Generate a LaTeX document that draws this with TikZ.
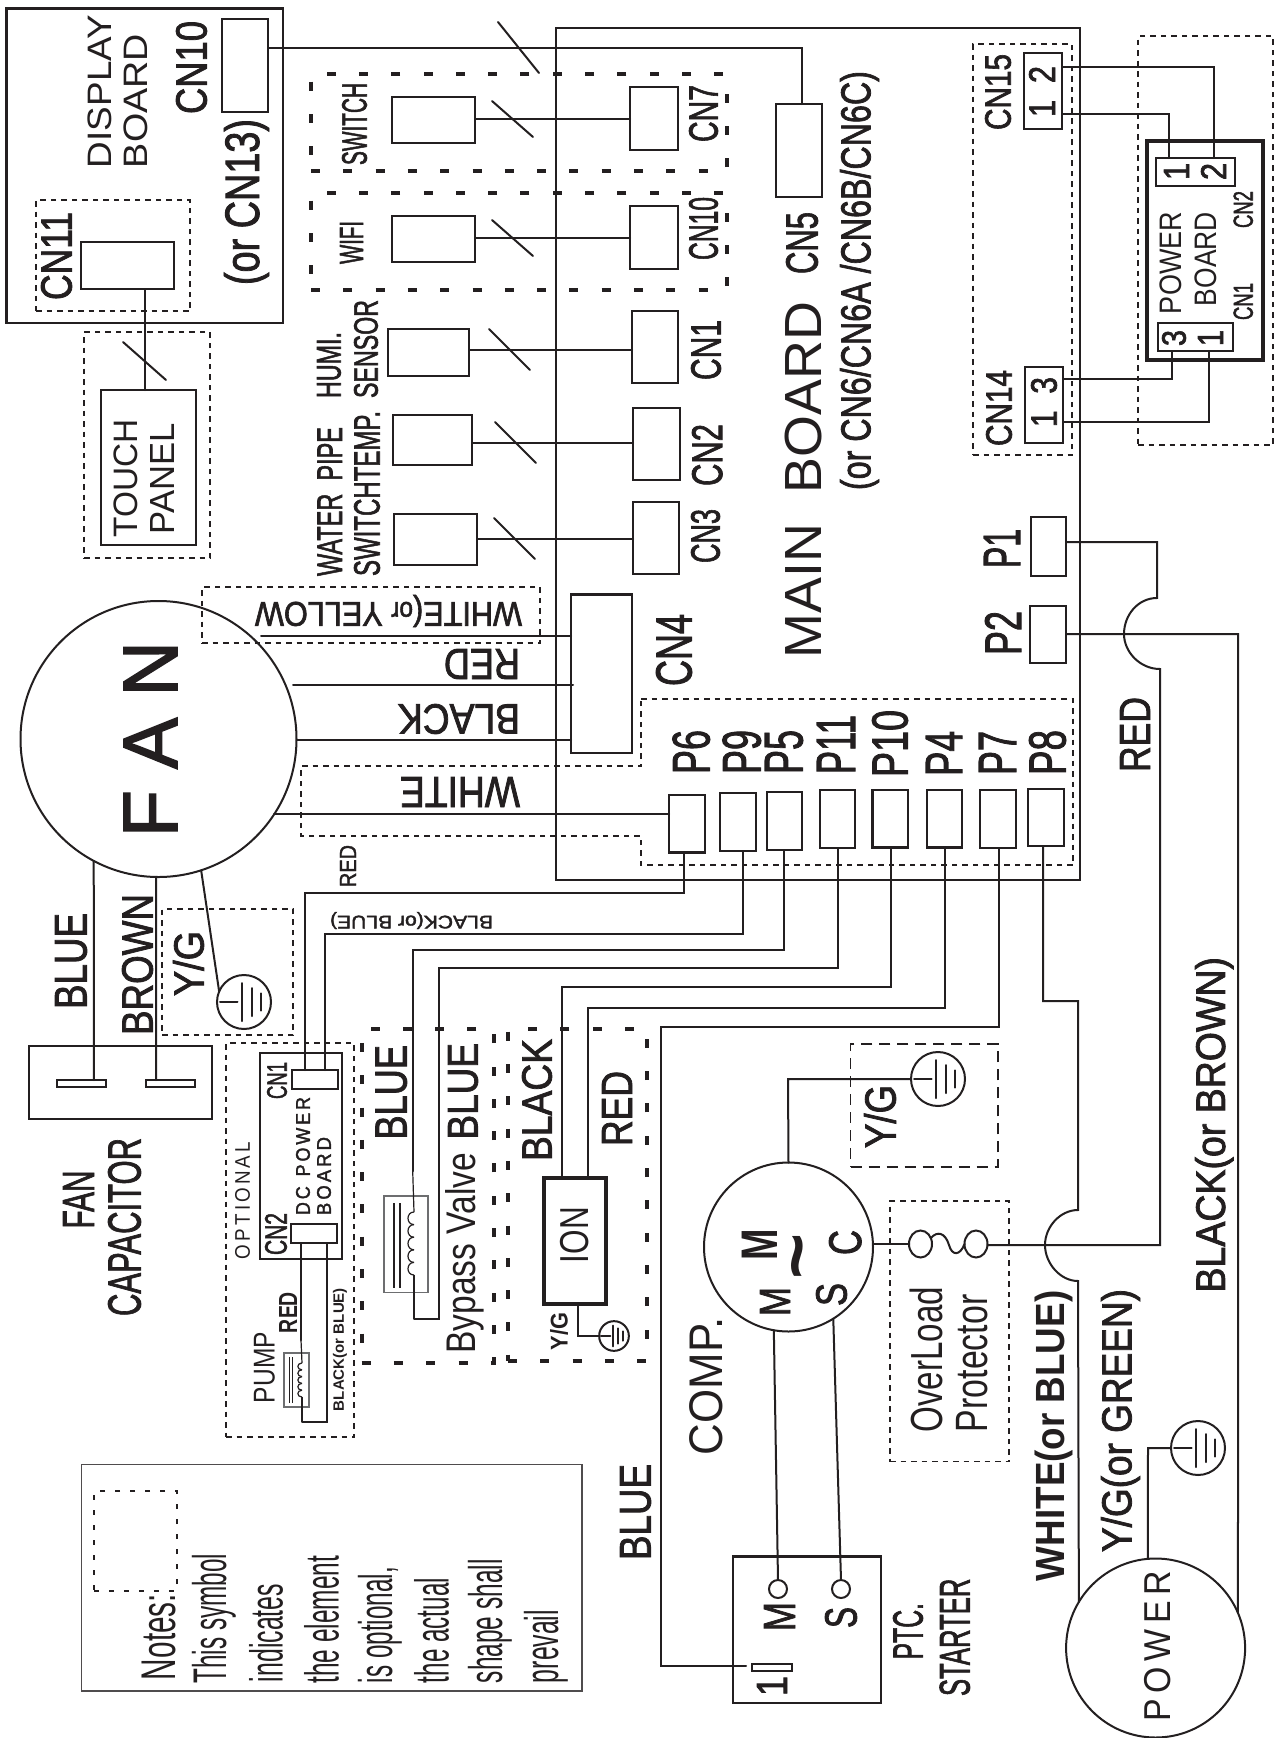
\documentclass[tikz,border=0pt]{standalone}
\usepackage{graphicx}
\usepackage{fontspec}
\setmainfont{Liberation Sans}
\newfontfamily\medf{Liberation Sans}[FakeBold=2]
\newfontfamily\boldf{Liberation Sans Bold}
\newcommand\lightf{\rmfamily}
\usetikzlibrary{shapes.geometric,calc}
\definecolor{ink}{HTML}{231F20}
\definecolor{coilgray}{HTML}{6D6E70}
\tikzset{
  wire/.style={draw=ink,line width=2pt,line cap=round,line join=miter},
  thinwire/.style={draw=ink,line width=1.2pt},
  cbox/.style={rectangle,draw=ink,line width=2.2pt,inner sep=0pt,outer sep=0pt},
  heavybox/.style={cbox,line width=4pt},
  graybox/.style={cbox,draw=coilgray,line width=1.1pt},
  notebox/.style={cbox,draw=ink!80,line width=1.5pt},
  dotbox/.style={cbox,line width=1.7pt,dash pattern=on 5.5pt off 5pt},
  widedot/.style={cbox,line width=1.7pt,dash pattern=on 5pt off 10pt},
  dashbox/.style={cbox,line width=1.6pt,dash pattern=on 11pt off 7pt},
  bigdash/.style={cbox,line width=4pt,dash pattern=on 9pt off 23.3pt},
  round/.style={circle,draw=ink,line width=2pt,inner sep=0pt,outer sep=0pt},
  txt/.style={inner sep=0pt,outer sep=0pt,text=ink,font=\fontsize{30}{30}\selectfont\medf},
}
% box from its corners: [style]{name}{xa}{ya}{xb}{yb}
\newcommand\BX[6][]{%
  \pgfmathsetmacro\bxw{#5-#3}\pgfmathsetmacro\bxh{#6-#4}%
  \node[cbox,#1,minimum width=\bxw pt,minimum height=\bxh pt] (#2) at ({(#3+#5)/2},{(#4+#6)/2}) {};}
% text reading upwards, fitted in an ink box
\newcommand\TV[7][]{%
  \pgfmathsetmacro\txw{#6-#4}\pgfmathsetmacro\txh{#5-#3}%
  \node[txt,rotate=90] (#2) at ({(#3+#5)/2},{(#4+#6)/2}) {\resizebox*{\txw pt}{\txh pt}{#1#7}};}
% text upside down, fitted in an ink box
\newcommand\TU[7][]{%
  \pgfmathsetmacro\txw{#5-#3}\pgfmathsetmacro\txh{#6-#4}%
  \node[txt,rotate=180] (#2) at ({(#3+#5)/2},{(#4+#6)/2}) {\resizebox*{\txw pt}{\txh pt}{#1#7}};}
% earth symbol
\newcommand\GND[4]{%
  \pgfmathsetmacro\gs{54*#4}%
  \node[round,minimum size=\gs pt] (#1) at (#2,#3) {};
  \draw[wire] ([shift={({-24*#4},0)}]#1.center) -- ++({17.5*#4},0);
  \draw[wire] ([shift={({-2.4*#4},{-19*#4})}]#1.center) -- ++(0,{38*#4});
  \draw[wire] ([shift={({8*#4},{-14*#4})}]#1.center) -- ++(0,{28*#4});
  \draw[wire] ([shift={({17*#4},{-8.6*#4})}]#1.center) -- ++(0,{17.2*#4});}
% coil bumps
\newcommand\COIL[5]{%
  \foreach \k in {1,...,#4}{%
    \pgfmathsetmacro\ca{#2+(#3-#2)*(\k-1)/#4}%
    \pgfmathsetmacro\cb{#2+(#3-#2)*\k/#4}%
    \draw[thinwire] (#1,\ca) .. controls ({#1-#5},\ca) and ({#1-#5},\cb) .. (#1,\cb);}}
\newcommand\SMALLF[1]{{\fontsize{24}{24}\selectfont #1}}
\begin{document}
\begin{tikzpicture}[x=1pt,y=-1pt]
\useasboundingbox (0,0) rectangle (1277,1738);
\fill[white] (0,0) rectangle (1277,1738);

% ---------- main frames
\BX{main}{556}{28}{1080}{880}
\BX{display}{6.5}{8.4}{283}{322.6}
\BX{dcn10}{222}{19}{268}{112}
\BX[dotbox]{dcn11d}{36}{200}{190}{311}
\BX{dcn11}{81}{242}{174}{289}
\BX[dotbox]{touchd}{84}{332}{210}{558}
\BX{touch}{101}{390}{196}{545}
\draw[wire] (145,0 |- dcn11.south) -- (145,0 |- touch.north);
\draw[wire] (123,342) -- (166,380);

% ---------- optional switch / wifi
\BX[bigdash]{swd}{311}{74}{727}{171}
\BX[bigdash]{wfd}{311}{193}{727}{290}
\BX{swb}{392}{97}{475}{143}
\BX{wfb}{392}{216}{475}{262}
\BX{humb}{388}{329}{469}{376}
\BX{watb}{393}{415}{472}{465}
\BX{temb}{394}{514}{477}{565}
\BX{cn7}{630}{87}{678}{150}
\BX{cnten}{630}{206}{678}{269}
\BX{cn1}{632}{311}{678}{383}
\BX{cn2}{633}{408}{680}{480}
\BX{cn3}{633}{502}{679}{574}
\BX{cn5}{776}{104}{822}{197}
\draw[wire] (swb.east |- 0,119) -- (cn7.west |- 0,119);
\draw[wire] (wfb.east |- 0,238) -- (cnten.west |- 0,238);
\draw[wire] (humb.east |- 0,349.5) -- (cn1.west |- 0,349.5);
\draw[wire] (watb.east |- 0,443) -- (cn2.west |- 0,443);
\draw[wire] (temb.east |- 0,539) -- (cn3.west |- 0,539);
\draw[wire] (dcn10.east |- 0,47.5) -- (802,47.5) -- (802,0 |- cn5.north);
\draw[wire] (498,22) -- (539,73);
\draw[wire] (492,101) -- (533,137);
\draw[wire] (492,220) -- (533,256);
\draw[wire] (489,329) -- (530,370);
\draw[wire] (495,422) -- (536,463);
\draw[wire] (494,518) -- (535,559);

% ---------- power board
\BX[dotbox]{cnd}{973}{44}{1072}{455}
\BX{cn15}{1024}{53}{1062}{129}
\BX{cn14}{1025}{367}{1063}{443}
\BX[dotbox]{powd}{1138}{36}{1273}{445}
\BX[heavybox]{powb}{1147}{141}{1263}{360}
\BX{pcn2}{1156}{158}{1235}{186}
\BX{pcn1}{1158}{323}{1233}{351}
\draw[wire] (cn15.east |- 0,67) -- (1214,67) -- (1214,0 |- pcn2.north);
\draw[wire] (cn15.east |- 0,114) -- (1169,114) -- (1169,0 |- pcn2.north);
\draw[wire] (cn14.east |- 0,379) -- (1172,379) -- (1172,0 |- pcn1.south);
\draw[wire] (cn14.east |- 0,422) -- (1209,422) -- (1209,0 |- pcn1.south);

% ---------- P connectors
\BX{p1}{1031}{517}{1066}{576}
\BX{p2}{1030}{606}{1066}{663}
\draw[dotbox,rectangle] (641,699) -- (1073,699) -- (1073,865) -- (641,865) -- (641,836) -- (301,836) -- (301,766) -- (641,766) -- cycle;
\BX{pVI}{669}{795}{705}{852.5}
\BX{pIX}{720}{793}{756}{851}
\BX{pV}{767}{792}{802}{850}
\BX{pXI}{820}{790}{855}{848}
\BX{pX}{872.5}{790}{908}{847.5}
\BX{pIV}{927}{790}{962}{847.5}
\BX{pVII}{980}{790}{1016}{848}
\BX{pVIII}{1028}{789}{1063.6}{846}
\BX{cn4}{571}{594.5}{632}{753}

% ---------- fan
\node[round,minimum size=276pt] (fan) at (158.5,739) {};
\BX[dotbox]{wyd}{202}{587}{540}{643}
\coordinate (wystart) at (261,636);
\draw[wire] (wystart) -- (cn4.west |- wystart);
\draw[wire] (293,685) -- (573,685);
\draw[wire] (fan.east |- 0,740) -- (cn4.west |- 0,740);
\draw[wire] (fan.-33.5) -- (pVI.west |- fan.-33.5);
\BX{cap}{29}{1046}{212}{1119}
\BX[line width=1.6pt]{capa}{57}{1080}{106}{1087}
\BX[line width=1.6pt]{capb}{146}{1080}{195}{1087}
\draw[wire] (fan.-118) -- (94,0 |- capa.north);
\draw[wire] (fan.-91) -- (156,0 |- capb.north);
\BX[dotbox]{ygd}{162}{909}{293}{1035}
\GND{gfan}{244}{1002}{1}
\draw[wire] (fan.-72) -- (gfan.157);

% ---------- DC power board & pump
\BX[dotbox]{optd}{226}{1043}{354}{1437}
\BX{dcb}{260}{1053}{342}{1259}
\BX{dcn1}{292}{1070}{338}{1089}
\BX{dcn2}{291}{1224}{337}{1243}
\BX[graybox]{pumpbox}{284}{1353}{309}{1407}
\draw[thinwire] (289.3,1357) -- (289.3,1403);
\draw[thinwire] (292.3,1357) -- (292.3,1403);
\COIL{302}{1363}{1397}{5}{5.5}
\coordinate (pumptop) at (302,1363);
\coordinate (pumpbot) at (302,1397);
\draw[wire] (301,0 |- dcn2.south) -- (301,1340);
\draw[thinwire] (301,1340) -- (pumptop);
\draw[thinwire] (pumpbot) -- (302,1422);
\draw[wire] (302,1422) -- (327,1422) -- (327,0 |- dcn2.south);

% ---------- big optional boxes
\BX[bigdash]{bvd}{361.6}{1028.5}{494}{1363}
\BX[bigdash]{iond}{508}{1028.5}{647}{1361}
\BX[graybox]{bvbox}{384}{1196}{428}{1292.6}
\draw[thinwire] (394,1203) -- (394,1288);
\draw[thinwire] (400,1203) -- (400,1288);
\COIL{414}{1212}{1275}{5}{8}
\coordinate (bvtop) at (414,1212);
\coordinate (bvbot) at (414,1275);
\BX[heavybox]{ion}{544}{1178}{606}{1304}
\GND{gion}{614}{1336}{0.55}

% ---------- wires from P connectors
\draw[wire] (684,0 |- pVI.south) -- (684,893) -- (305,893) -- (305,0 |- dcn1.north);
\draw[wire] (743,0 |- pIX.south) -- (743,934) -- (324.5,934) -- (324.5,0 |- dcn1.north);
\draw[wire] (784,0 |- pV.south) -- (784,950) -- (412.7,950) -- (412.7,1171);
\draw[thinwire] (412.7,1171) -- (bvtop);
\draw[wire] (838,0 |- pXI.south) -- (838,968) -- (439,968) -- (439,1318.5) -- (414,1318.5);
\draw[thinwire] (414,1318.5) -- (bvbot);
\draw[wire] (891,0 |- pX.south) -- (891,987) -- (562,987) -- (562,0 |- ion.north);
\draw[wire] (945,0 |- pIV.south) -- (945,1008) -- (588,1008) -- (588,0 |- ion.north);
\draw[wire] (577.5,0 |- ion.south) -- (577.5,0 |- gion.west) -- (gion.west);

% ---------- compressor
\node[round,minimum size=169pt] (comp) at (788.5,1247) {};
\BX[dashbox]{ygc}{850.6}{1044}{998}{1167}
\GND{gcomp}{938}{1079}{1}
\draw[wire] (gcomp.west) -- (788,0 |- gcomp.west) -- (comp.north);
\BX{ptc}{732.7}{1556.5}{881}{1703}
\node[round,minimum size=18pt] (ptcm) at (778,1589) {};
\node[round,minimum size=18pt] (ptcs) at (841,1589) {};
\BX[line width=1.6pt]{ptct}{752}{1664}{792}{1671}
\draw[wire] (comp.-100) -- (ptcm.north);
\draw[wire] (comp.-58) -- (ptcs.north);
\draw[wire] (998.5,0 |- pVII.south) -- (998.5,1027) -- (661,1027) -- (661,1666) -- (746,1666);
\BX[dotbox]{old}{890}{1201}{1009}{1461.5}
\node[ellipse,draw=ink,line width=2pt,minimum width=23pt,minimum height=27pt,inner sep=0pt,outer sep=0pt] (ola) at (920.5,1244) {};
\node[ellipse,draw=ink,line width=2pt,minimum width=23pt,minimum height=27pt,inner sep=0pt,outer sep=0pt] (olb) at (976,1244) {};
\draw[wire] (comp.east |- ola.west) -- (ola.west);
\draw[wire] (ola.30) .. controls (937,1231) and (945,1232) .. (949,1245) .. controls (952,1256) and (960,1256) .. (olb.west);

% ---------- mains wiring
\node[round,minimum size=179pt] (power) at (1155.6,1648) {};
\GND{gpow}{1198}{1448}{1}
\draw[wire] (gpow.west) -- (1148,0 |- gpow.west) -- (power.95);
\draw[wire] (p1.east |- 0,542) -- (1157,542) -- (1157,598)
  .. controls (1138,598) and (1124,615) .. (1124,634)
  .. controls (1124,652) and (1140,669) .. (1160,669)
  -- (1160,1245) -- (olb.east |- 0,1245);
\draw[wire] (p2.east |- 0,634) -- (1238,634) -- (power.23.6);
\draw[wire] (1043,0 |- pVIII.south) -- (1043,1001) -- (1078,1001) -- (1078,1210)
  .. controls (1060,1210) and (1045,1227) .. (1045,1245)
  .. controls (1045,1263) and (1060,1281) .. (1078,1281)
  -- (power.149.6);

% ---------- notes
\BX[notebox]{notes}{81.6}{1464.6}{582}{1691}
\BX[widedot]{notesd}{94}{1491}{177}{1591}

% ---------- texts, display board
\TV[\lightf]{tdisp}{88}{15}{112}{168}{DISPLAY}
\TV[\lightf]{tboard}{124}{34}{148}{168}{BOARD}
\TV{tcnten}{176}{21}{207}{114}{CN10}
\TV{tcnXIII}{224}{119}{269}{285}{(or CN13)}
\TV{tcnXI}{41}{212}{72}{300}{CN11}
\TV[\lightf]{ttouch}{114}{419}{138}{537}{TOUCH}
\TV[\lightf]{tpanel}{150}{423}{174}{534}{PANEL}
\TV{tsw}{342}{83}{367}{165}{SWITCH}
\TV{twifi}{340}{221}{363}{264}{WIFI}
\TV{thumi}{317}{332}{341}{398}{HUMI.}
\TV{tsens}{354}{300}{378}{398}{SENSOR}
\TV{twat}{317.5}{427}{342}{576}{WATER\ \ PIPE}
\TV{ttemp}{354}{411}{380}{576}{SWITCHTEMP.}
% main board
\TV[\lightf]{tmain}{785}{302}{822}{658}{MAIN\ \ BOARD}
\TV{tcn6}{840}{71}{879}{490}{(or CN6/CN6A /CN6B/CN6C)}
\TV{tcnv}{786}{212}{818}{274}{CN5}
\TV{tcnvii}{689}{85}{718}{142}{CN7}
\TV{tcnx}{689}{197}{718}{260}{CN10}
\TV{tcni}{691}{320}{721}{380}{CN1}
\TV{tcnii}{692}{424}{722.5}{486}{CN2}
\TV{tcniii}{691}{509}{720}{563}{CN3}
\TV{tcniv}{656}{614}{692}{686}{CN4}
\TV{tcnxv}{985}{54}{1011}{130}{CN15}
\TV{tcnxiv}{986}{370}{1012}{446}{CN14}
\TV{tdxv}{1029}{66}{1055}{117}{1\ \ 2}
\TV{tdxiv}{1031}{377}{1057}{427}{1\ \ 3}
\TV{tpw1}{1164}{163}{1189}{180}{1}
\TV{tpw2}{1201}{163}{1226}{180}{2}
\TV{tpw3}{1162}{330}{1186}{346}{3}
\TV{tpw4}{1198}{330}{1223}{346}{1}
\TV[\lightf]{tpower}{1160}{212}{1182}{314}{POWER}
\TV[\lightf]{tpboard}{1195}{212}{1217}{306}{BOARD}
\TV{tpc2}{1233.5}{191}{1253}{228}{CN2}
\TV{tpc1}{1233.5}{283}{1253}{320}{CN1}
\TV{tpi}{984}{529}{1020}{568}{P1}
\TV{tpii}{985}{611}{1021}{655}{P2}
\TV{tpvi}{672.5}{730}{710}{774}{P6}
\TV{tpix}{722.5}{730}{761}{774}{P9}
\TV{tpv}{765}{730}{803}{774}{P5}
\TV{tpxi}{817}{715}{855}{774}{P11}
\TV{tpx}{872}{710}{908}{777}{P10}
\TV{tpiv}{926}{731}{962}{776}{P4}
\TV{tpvii}{979}{731}{1016}{775}{P7}
\TV{tpviii}{1029}{730}{1066}{775}{P8}
\TV{tredr}{1120}{697}{1150}{772}{RED}
% fan
\TV{tfan}{124}{641}{177}{837}{F A N}
\TU{twy}{255}{595}{522}{627}{WHITE(\SMALLF{or} YELLOW}
\TU{tred}{444}{649}{520}{679}{RED}
\TU{tblack}{398}{704}{520}{734}{BLACK}
\TU{twhite}{400}{777}{520}{807}{WHITE}
\TV{tredsm}{340}{845}{356}{887}{RED}
\TU{tblacksm}{330}{912}{493}{929}{BLACK(or BLUE)}
\TV{tblue}{55}{913}{87}{1009}{BLUE}
\TV{tbrown}{122}{894}{153}{1035}{BROWN}
\TV{tyg}{173}{931}{204}{996}{Y/G}
\TV{tfancap}{63}{1170.5}{94}{1228.5}{FAN}
\TV{tcapac}{108}{1138}{141}{1316}{CAPACITOR}
% DC board
\TV[\lightf]{topt}{235}{1142}{250}{1259}{O\,P\,T\,I\,O\,N\,A\,L}
\TV{tdci}{267}{1062}{287}{1099}{CN1}
\TV{tdcii}{265}{1213}{287}{1255}{CN2}
\TV{tdcp}{296}{1097}{310}{1215}{D\,C\ \ P\,O\,W\,E\,R}
\TV{tdcb}{317}{1137}{331}{1215}{B\,O\,A\,R\,D}
\TV[\boldf]{tpred}{279}{1292}{297}{1333}{RED}
\TV[\lightf]{tpump}{254}{1332}{275}{1403}{PUMP}
\TV[\boldf]{tpbl}{333}{1288}{347}{1411}{BLACK(or BLUE)}
% optional boxes
\TV{tbi}{375.5}{1045}{407}{1139.5}{BLUE}
\TV{tbii}{448}{1043}{478}{1139.5}{BLUE}
\TV[\lightf]{tbyp}{445}{1153}{483.6}{1353.6}{Bypass Valve}
\TV{tblk}{522}{1039}{552}{1161}{BLACK}
\TV{tredi}{602}{1071}{632}{1146}{RED}
\TV[\lightf]{tion}{560}{1207}{588.6}{1263}{ION}
\TV[\boldf]{tygi}{550}{1313}{568}{1350.5}{Y/G}
% compressor
\TV{tygc}{864}{1085}{896}{1148}{Y/G}
\TV[\boldf]{tcm}{741.6}{1228.5}{777}{1260}{M}
\TV[\boldf]{ttilde}{791}{1233}{821}{1279}{\textasciitilde}
\TV{tcms}{760}{1287}{790}{1316}{M}
\TV{tcss}{816}{1283}{847}{1306}{S}
\TV{tccc}{829}{1230}{861.5}{1255}{C}
\TV[\lightf]{tcomp}{689.6}{1317}{723}{1455}{COMP.}
\TV{tptm}{764}{1602}{795}{1631}{M}
\TV{tpts}{825}{1607}{857}{1628}{S}
\TV{tpto}{757}{1676}{787}{1696}{1}
\TV{tptc}{893}{1603}{923}{1659.5}{PTC.}
\TV{tstart}{939.6}{1578.6}{970}{1696}{STARTER}
\TV[\lightf]{tol}{910}{1287}{943}{1432.5}{OverLoad}
\TV[\lightf]{tprot}{956}{1294.5}{987.6}{1432}{Protector}
\TV[\boldf]{twhb}{1035}{1290.6}{1073}{1581}{WHITE(or BLUE)}
\TV{tygg}{1101}{1289}{1140}{1552}{Y/G(or GREEN)}
\TV{tblb}{1195}{957}{1233.5}{1292.5}{BLACK(or BROWN)}
\TV[\lightf]{tpwr}{1144}{1571}{1170.5}{1721.6}{P\,O\,W\,E\,R}
\TV{tbluep}{620}{1464}{651}{1560}{BLUE}
% notes
\TV[\lightf]{tnotes}{142}{1594}{176}{1680}{Notes:}
\TV[\lightf]{tn1}{192}{1554}{236}{1683.5}{This symbol}
\TV[\lightf]{tn2}{249}{1584}{283}{1682}{indicates}
\TV[\lightf]{tn3}{304}{1556}{339}{1683.5}{the element}
\TV[\lightf]{tn4}{358}{1567}{402}{1683}{is optional,}
\TV[\lightf]{tn5}{414}{1578}{449}{1683}{the actual}
\TV[\lightf]{tn6}{468}{1559.5}{512}{1683}{shape shall}
\TV[\lightf]{tn7}{524}{1610}{568}{1683}{prevail}
\end{tikzpicture}
\end{document}
